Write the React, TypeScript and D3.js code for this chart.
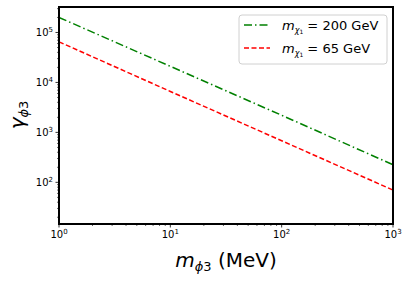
import React from "react";
import * as d3 from "d3";

const masses = [1, 10, 100, 1000];
const gamma200 = [2.0e5, 2.1e4, 2.2e3, 2.25e2];
const gamma65 = [6.5e4, 6.6e3, 6.8e2, 70];
const xTickExps = [0, 1, 2, 3];
const yTickExps = [2, 3, 4, 5];
const legendLabels = ["200 GeV", "65 GeV"];

const W = 409, H = 282;
const L = 59, R = 393, T = 7, B = 224;

export default function App() {
  const x = d3.scaleLog().domain([1, 1000]).range([L, R]);
  const y = d3.scaleLog().domain([Math.pow(10, 1.166), Math.pow(10, 5.51)]).range([B, T]);
  const line = d3.line<number>().x((_, i) => x(masses[i])).y((d) => y(d));

  const xMinor: number[] = [];
  for (let e = 0; e < 3; e++) for (let k = 2; k <= 9; k++) xMinor.push(k * Math.pow(10, e));
  const yMinor: number[] = [];
  for (let e = 1; e < 6; e++) for (let k = 2; k <= 9; k++) {
    const v = k * Math.pow(10, e);
    if (v >= y.domain()[0] && v <= y.domain()[1]) yMinor.push(v);
  }
  const series = [
    { data: gamma200, color: "green", dash: "8,3,1.5,3", label: legendLabels[0] },
    { data: gamma65, color: "red", dash: "5,2.5", label: legendLabels[1] },
  ];
  const font = "DejaVu Sans";
  return (
    <svg width={W} height={H} style={{ position: "absolute", left: 0, top: 0 }} fontFamily={font}>
      <rect width={W} height={H} fill="white" />
      {series.map((s, i) => (
        <path key={i} d={line(s.data) || ""} fill="none" stroke={s.color} strokeWidth={1.5} strokeDasharray={s.dash} />
      ))}
      {xMinor.map((v, i) => (
        <line key={"xm" + i} x1={x(v)} x2={x(v)} y1={B} y2={B + 2} stroke="black" strokeWidth={0.6} />
      ))}
      {yMinor.map((v, i) => (
        <line key={"ym" + i} x1={L} x2={L - 2} y1={y(v)} y2={y(v)} stroke="black" strokeWidth={0.6} />
      ))}
      {xTickExps.map((e) => (
        <g key={"xt" + e}>
          <line x1={x(Math.pow(10, e))} x2={x(Math.pow(10, e))} y1={B} y2={B + 3.5} stroke="black" strokeWidth={0.8} />
          <text x={x(Math.pow(10, e))} y={B + 14} fontSize={10} textAnchor="middle">
            10<tspan dy={-4} fontSize={7}>{e}</tspan>
          </text>
        </g>
      ))}
      {yTickExps.map((e) => (
        <g key={"yt" + e}>
          <line x1={L} x2={L - 3.5} y1={y(Math.pow(10, e))} y2={y(Math.pow(10, e))} stroke="black" strokeWidth={0.8} />
          <text x={L - 6} y={y(Math.pow(10, e)) + 3.5} fontSize={10} textAnchor="end">
            10<tspan dy={-4} fontSize={7}>{e}</tspan>
          </text>
        </g>
      ))}
      <rect x={L} y={T} width={R - L} height={B - T} fill="none" stroke="black" strokeWidth={2} />
      <g>
        <rect x={239} y={15} width={148} height={49} rx={3} fill="white" fillOpacity={0.8} stroke="#d0d0d0" strokeWidth={1} />
        {series.map((s, i) => (
          <g key={"lg" + i}>
            <line x1={244} x2={270} y1={25 + i * 23} y2={25 + i * 23} stroke={s.color} strokeWidth={1.5} strokeDasharray={s.dash} />
            <text x={282} y={29.5 + i * 23} fontSize={13}>
              <tspan fontStyle="italic">m</tspan>
              <tspan fontStyle="italic" fontSize={8} dy={3}>χ</tspan>
              <tspan fontSize={6} dy={1}>1</tspan>
              <tspan dy={-4}>{" =  " + s.label}</tspan>
            </text>
          </g>
        ))}
      </g>
      <text x={226} y={267} fontSize={20} textAnchor="middle">
        <tspan fontStyle="italic">m</tspan>
        <tspan fontStyle="italic" fontSize={13} dy={4}>ϕ</tspan>
        <tspan fontSize={13}>3</tspan>
        <tspan dy={-4}>{" (MeV)"}</tspan>
      </text>
      <text transform={`translate(24,${115}) rotate(-90)`} fontSize={20} textAnchor="middle">
        <tspan fontStyle="italic">γ</tspan>
        <tspan fontStyle="italic" fontSize={13} dy={4}>ϕ</tspan>
        <tspan fontSize={13}>3</tspan>
      </text>
    </svg>
  );
}
